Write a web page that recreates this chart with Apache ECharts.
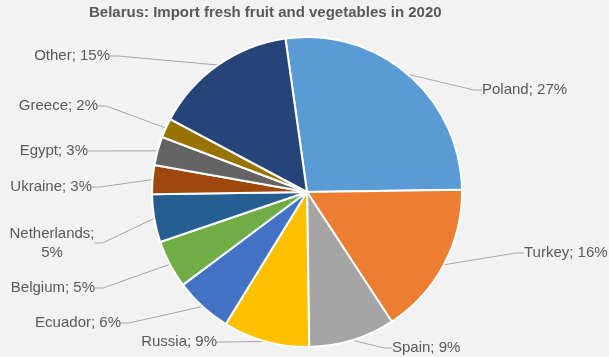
<!DOCTYPE html>
<html><head><meta charset="utf-8">
<script src="https://cdn.jsdelivr.net/npm/echarts@6/dist/echarts.min.js"></script>
<style>html,body{margin:0;padding:0;background:#F2F2F2;}#c{width:609px;height:357px;}</style>
</head><body><div id="c"></div>
<script>
var categories = ['Poland','Turkey','Spain','Russia','Ecuador','Belgium','Netherlands','Ukraine','Egypt','Greece','Other'];
var shares = [27,16,9,9,6,5,5,3,3,2,15];
var colors = ['#5B9BD5','#ED7D31','#A5A5A5','#FFC000','#4472C4','#70AD47','#255E91','#9E480E','#636363','#997300','#264478'];
// label anchor layout: [x, y, align]
var labelPos = [
  [482, 90, 'left'],
  [524, 253, 'left'],
  [392, 348, 'left'],
  [217, 342, 'right'],
  [121, 323, 'right'],
  [95, 288, 'right'],
  [52, 243, 'center'],
  [92, 187, 'right'],
  [88, 151, 'right'],
  [98, 106, 'right'],
  [110, 56, 'right']
];
var chart = echarts.init(document.getElementById('c'), null, {renderer:'canvas'});
chart.setOption({
  backgroundColor:'#F2F2F2',
  animation:false,
  title:{text:'Belarus: Import fresh fruit and vegetables in 2020', left:84, top:0,
    textStyle:{fontFamily:'Liberation Sans, Arial', fontSize:15, fontWeight:'bold', color:'#595959'}},
  series:[{
    type:'pie',
    center:[307,192],
    radius:[0,155],
    startAngle:98,
    clockwise:true,
    data:categories.map(function(c,i){return {name:c, value:shares[i], itemStyle:{color:colors[i]}};}),
    itemStyle:{borderColor:'#FFFFFF', borderWidth:2},
    label:{show:true, position:'outside', fontFamily:'Liberation Sans, Arial', fontSize:15, color:'#595959', lineHeight:19,
      formatter:function(p){return p.name==='Netherlands' ? p.name+';\n'+p.value+'%' : p.name+'; '+p.value+'%';}},
    labelLine:{show:true, length:10, length2:8, lineStyle:{color:'#A6A6A6', width:1}},
    labelLayout:function(params){
      var lp = labelPos[params.dataIndex];
      return {x:lp[0], y:lp[1], align:lp[2], verticalAlign:'middle'};
    }
  }]
});
</script></body></html>
